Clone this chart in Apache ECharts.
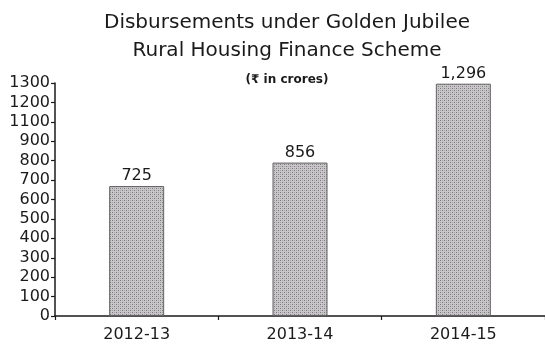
<!DOCTYPE html>
<html>
<head>
<meta charset="utf-8">
<script src="https://cdn.jsdelivr.net/npm/echarts@6/dist/echarts.min.js"></script>
<style>
  html, body { margin: 0; padding: 0; background: #ffffff; }
  #chart { width: 545px; height: 351px; }
</style>
</head>
<body>
<div id="chart"></div>
<script>
// Fiscal years and disbursed amounts (Rs. crore)
const years = ['2012-13', '2013-14', '2014-15'];
const disbursements = [725, 856, 1296];

// Labels printed along the vertical axis, bottom to top, evenly spaced
const yTickLabels = ['0', '100', '200', '300', '400', '500', '600', '700', '800', '900', '1100', '1200', '1300'];
const yMax = 1300;

// Stippled grey fill for the bars
function stipple() {
  const c = document.createElement('canvas');
  c.width = 4; c.height = 4;
  const g = c.getContext('2d');
  g.fillStyle = '#c9c7c9';
  g.fillRect(0, 0, 4, 4);
  g.fillStyle = '#7a787a';
  g.fillRect(0, 0, 1, 1);
  g.fillRect(2, 2, 1, 1);
  g.fillStyle = '#a5a3a5';
  g.fillRect(2, 0, 1, 1);
  g.fillRect(0, 2, 1, 1);
  return c;
}

const font = "'DejaVu Sans', 'Noto Sans', sans-serif";
const ink = '#1a1a1a';

const chart = echarts.init(document.getElementById('chart'), null, { renderer: 'canvas' });
chart.setOption({
  animation: false,
  backgroundColor: '#ffffff',
  title: [
    {
      text: 'Disbursements under Golden Jubilee\nRural Housing Finance Scheme',
      left: 282,
      textAlign: 'center',
      top: 4,
      textStyle: { fontFamily: font, fontSize: 20, fontWeight: 'normal', color: ink, lineHeight: 28 }
    },
    {
      text: '(\u20b9 in crores)',
      left: 282,
      textAlign: 'center',
      top: 68,
      textStyle: { fontFamily: font, fontSize: 12, fontWeight: 'bold', color: ink, lineHeight: 14 }
    }
  ],
  grid: { left: 55, top: 83, width: 498, height: 233 },
  xAxis: {
    type: 'category',
    data: years,
    axisLine: { lineStyle: { color: ink, width: 1.5 } },
    axisTick: { show: true, length: 4, lineStyle: { color: ink, width: 1.2 } },
    axisLabel: { fontFamily: font, fontSize: 16, color: ink, margin: 11 }
  },
  yAxis: [
    {
      type: 'category',
      data: yTickLabels,
      boundaryGap: false,
      axisLine: { lineStyle: { color: ink, width: 1.5 } },
      axisTick: { show: true, length: 4, lineStyle: { color: ink, width: 1.2 } },
      axisLabel: { interval: 0, fontFamily: font, fontSize: 16, color: ink, margin: 5 },
      splitLine: { show: false }
    },
    {
      type: 'value',
      min: 0,
      max: yMax,
      show: false,
      splitLine: { show: false }
    }
  ],
  series: [
    {
      type: 'bar',
      yAxisIndex: 1,
      data: disbursements,
      barWidth: 55,
      itemStyle: {
        color: { image: stipple(), repeat: 'repeat' },
        borderColor: '#636163',
        borderWidth: 1
      },
      label: {
        show: true,
        position: 'top',
        distance: 2,
        fontFamily: font,
        fontSize: 16,
        color: ink,
        formatter: p => p.value.toLocaleString('en-US')
      }
    }
  ]
});
</script>
</body>
</html>
